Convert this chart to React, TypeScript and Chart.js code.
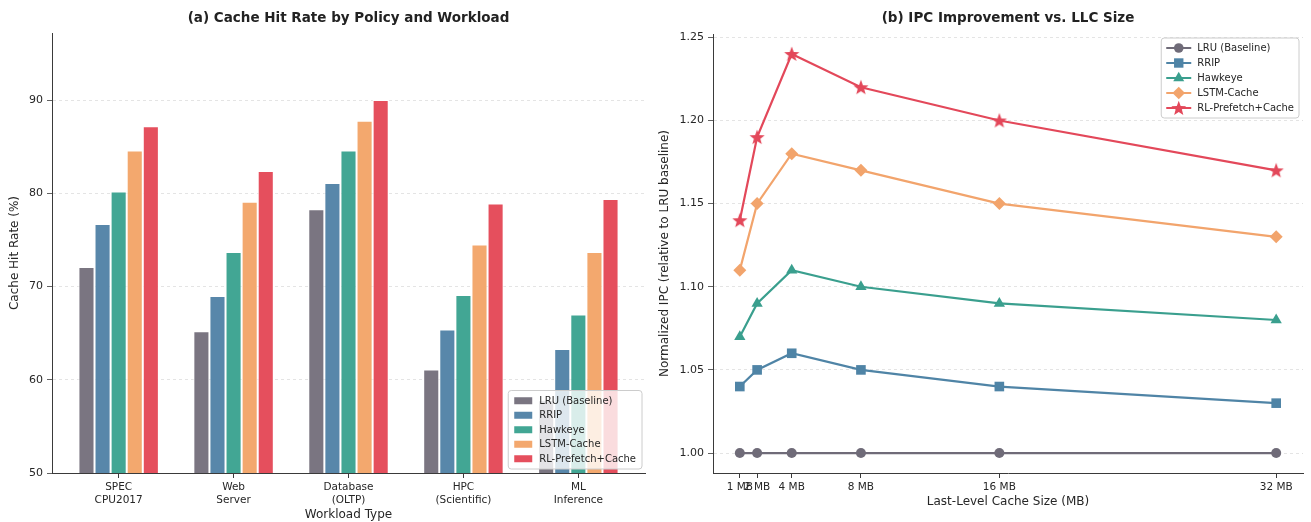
import React, { useEffect, useRef } from "react";
import { Chart, registerables } from "chart.js";

Chart.register(...registerables);

// ---------- Data ----------
const workloadLabels: string[][] = [
  ["SPEC", "CPU2017"],
  ["Web", "Server"],
  ["Database", "(OLTP)"],
  ["HPC", "(Scientific)"],
  ["ML", "Inference"],
];
const policyNames = ["LRU (Baseline)", "RRIP", "Hawkeye", "LSTM-Cache", "RL-Prefetch+Cache"];

const hitLRU = [72.1, 65.2, 78.3, 61.1, 57.8];
const hitRRIP = [76.7, 69.0, 81.1, 65.4, 63.3];
const hitHawkeye = [80.2, 73.7, 84.6, 69.1, 67.0];
const hitLSTM = [84.6, 79.1, 87.8, 74.5, 73.7];
const hitRL = [87.2, 82.4, 90.0, 78.9, 79.4];

const llcSizes = [1, 2, 4, 8, 16, 32];
const ipcLRU = [1.0, 1.0, 1.0, 1.0, 1.0, 1.0];
const ipcRRIP = [1.04, 1.05, 1.06, 1.05, 1.04, 1.03];
const ipcHawkeye = [1.07, 1.09, 1.11, 1.1, 1.09, 1.08];
const ipcLSTM = [1.11, 1.15, 1.18, 1.17, 1.15, 1.13];
const ipcRL = [1.14, 1.19, 1.24, 1.22, 1.2, 1.17];

const hitTicksStep = 10;
const hitMin = 50;
const hitMax = 97.2;
const ipcMin = 0.988;
const ipcMax = 1.252;
const ipcStep = 0.05;
const llcMin = -0.55;
const llcMax = 33.55;

// ---------- Style ----------
const FONT = "'DejaVu Sans', 'Liberation Sans', sans-serif";
const TEXT = "#262626";
const AXIS = "#3a3a3a";
const GRID = "#dedede";
const barColors = ["#7a7581", "#5887aa", "#42a694", "#f3a86e", "#e54f5d"];
const lineColors = ["#6f6b78", "#4f84a6", "#3a9f8e", "#f2a46c", "#e3485a"];
const markerKinds = ["circle", "rect", "triangle", "rectRot", "star"];
const markerRadii = [5, 6.8, 6.5, 6.5, 8];

function starPath(ctx: CanvasRenderingContext2D, cx: number, cy: number, r: number) {
  for (let i = 0; i < 10; i++) {
    const rad = i % 2 === 0 ? r : r * 0.42;
    const a = -Math.PI / 2 + (i * Math.PI) / 5;
    ctx.lineTo(cx + rad * Math.cos(a), cy + rad * Math.sin(a) + 0.6);
  }
}

function starCanvas(color: string, r: number) {
  const size = Math.ceil(r * 2 + 2);
  const c = document.createElement("canvas");
  c.width = size;
  c.height = size;
  const ctx = c.getContext("2d")!;
  ctx.beginPath();
  starPath(ctx, size / 2, size / 2, r);
  ctx.closePath();
  ctx.fillStyle = color;
  ctx.fill();
  return c;
}

function drawMarker(ctx: CanvasRenderingContext2D, kind: string, x: number, y: number, color: string) {
  ctx.save();
  ctx.fillStyle = color;
  ctx.beginPath();
  if (kind === "circle") {
    ctx.arc(x, y, 4.8, 0, Math.PI * 2);
  } else if (kind === "rect") {
    ctx.rect(x - 4.7, y - 4.7, 9.4, 9.4);
  } else if (kind === "triangle") {
    ctx.moveTo(x, y - 6.3);
    ctx.lineTo(x + 5.5, y + 3.2);
    ctx.lineTo(x - 5.5, y + 3.2);
  } else if (kind === "rectRot") {
    ctx.moveTo(x, y - 6.3);
    ctx.lineTo(x + 6.3, y);
    ctx.lineTo(x, y + 6.3);
    ctx.lineTo(x - 6.3, y);
  } else {
    starPath(ctx, x, y, 7.8);
  }
  ctx.closePath();
  ctx.fill();
  ctx.restore();
}

function titlePlugin(text: string) {
  return {
    id: "customTitle",
    afterDraw(chart: any) {
      const { ctx, chartArea } = chart;
      ctx.save();
      ctx.font = `bold 13.5px ${FONT}`;
      ctx.fillStyle = "#222";
      ctx.textAlign = "center";
      ctx.textBaseline = "middle";
      ctx.fillText(text, (chartArea.left + chartArea.right) / 2, 18);
      ctx.restore();
    },
  };
}

function roundRect(ctx: CanvasRenderingContext2D, x: number, y: number, w: number, h: number, r: number) {
  ctx.beginPath();
  ctx.moveTo(x + r, y);
  ctx.lineTo(x + w - r, y);
  ctx.arcTo(x + w, y, x + w, y + r, r);
  ctx.lineTo(x + w, y + h - r);
  ctx.arcTo(x + w, y + h, x + w - r, y + h, r);
  ctx.lineTo(x + r, y + h);
  ctx.arcTo(x, y + h, x, y + h - r, r);
  ctx.lineTo(x, y + r);
  ctx.arcTo(x, y, x + r, y, r);
  ctx.closePath();
}

const barLegendPlugin = {
  id: "barLegend",
  afterDraw(chart: any) {
    const { ctx, chartArea } = chart;
    ctx.save();
    ctx.font = `10px ${FONT}`;
    const textW = Math.max(...policyNames.map((n) => ctx.measureText(n).width));
    const rowH = 14.5;
    const w = 31 + textW + 6;
    const h = rowH * policyNames.length + 6;
    const x = chartArea.right - 3 - w;
    const y = chartArea.bottom - 4 - h;
    roundRect(ctx, x, y, w, h, 3);
    ctx.fillStyle = "rgba(255,255,255,0.8)";
    ctx.fill();
    ctx.strokeStyle = "#cccccc";
    ctx.lineWidth = 1;
    ctx.stroke();
    policyNames.forEach((name, i) => {
      const cy = y + 3 + rowH * (i + 0.5);
      ctx.fillStyle = barColors[i];
      ctx.fillRect(x + 6, cy - 3.5, 18, 7);
      ctx.fillStyle = TEXT;
      ctx.textAlign = "left";
      ctx.textBaseline = "middle";
      ctx.fillText(name, x + 31, cy + 0.5);
    });
    ctx.restore();
  },
};

const lineLegendPlugin = {
  id: "lineLegend",
  afterDraw(chart: any) {
    const { ctx, chartArea } = chart;
    ctx.save();
    ctx.font = `10px ${FONT}`;
    const textW = Math.max(...policyNames.map((n) => ctx.measureText(n).width));
    const rowH = 15;
    const w = 36 + textW + 5;
    const h = rowH * policyNames.length + 5;
    const x = chartArea.right - 4 - w;
    const y = chartArea.top + 4;
    roundRect(ctx, x, y, w, h, 3);
    ctx.fillStyle = "rgba(255,255,255,0.8)";
    ctx.fill();
    ctx.strokeStyle = "#cccccc";
    ctx.lineWidth = 1;
    ctx.stroke();
    policyNames.forEach((name, i) => {
      const cy = y + 2.5 + rowH * (i + 0.5);
      ctx.strokeStyle = lineColors[i];
      ctx.lineWidth = 2;
      ctx.beginPath();
      ctx.moveTo(x + 5, cy);
      ctx.lineTo(x + 30, cy);
      ctx.stroke();
      drawMarker(ctx, markerKinds[i], x + 17.5, cy, lineColors[i]);
      ctx.fillStyle = TEXT;
      ctx.textAlign = "left";
      ctx.textBaseline = "middle";
      ctx.fillText(name, x + 36, cy + 0.5);
    });
    ctx.restore();
  },
};

const CAT_PAD = 0.58;

export default function App() {
  const leftRef = useRef<HTMLCanvasElement>(null);
  const rightRef = useRef<HTMLCanvasElement>(null);

  useEffect(() => {
    const hitSeries = [hitLRU, hitRRIP, hitHawkeye, hitLSTM, hitRL];
    const left = new Chart(leftRef.current!, {
      type: "bar",
      data: {
        labels: workloadLabels,
        datasets: hitSeries.map((vals, i) => ({
          label: policyNames[i],
          data: vals,
          backgroundColor: barColors[i],
          borderColor: "#ffffff",
          borderWidth: 1,
          borderSkipped: "bottom",
          categoryPercentage: 0.7,
          barPercentage: 1.0,
        })),
      },
      options: {
        responsive: false,
        animation: false,
        events: [],
        layout: { padding: { top: 33, right: 10, left: 0, bottom: 0 } },
        plugins: { legend: { display: false }, title: { display: false }, tooltip: { enabled: false } },
        scales: {
          x: {
            type: "category",
            offset: true,
            afterBuildTicks: (scale: any) => {
              const n = workloadLabels.length;
              scale._startValue = -CAT_PAD;
              scale._valueRange = n - 1 + 2 * CAT_PAD;
            },
            afterFit: (scale: any) => {
              scale.height = 49;
            },
            grid: {
              offset: false,
              drawOnChartArea: false,
              drawTicks: true,
              tickLength: 5,
              tickColor: AXIS,
              color: AXIS,
            },
            border: { display: true, color: AXIS, width: 1 },
            ticks: {
              color: TEXT,
              font: { family: FONT, size: 10.5, lineHeight: 1.24 },
              padding: 3,
              maxRotation: 0,
              autoSkip: false,
            },
            title: {
              display: true,
              text: "Workload Type",
              color: TEXT,
              font: { family: FONT, size: 12 },
              padding: { top: 0, bottom: 0 },
            },
          },
          y: {
            type: "linear",
            min: hitMin,
            max: hitMax,
            afterFit: (scale: any) => {
              scale.width = 52;
            },
            grid: {
              color: GRID,
              lineWidth: 0.8,
              drawTicks: true,
              tickLength: 5,
              tickColor: AXIS,
            },
            border: { display: true, color: AXIS, width: 1, dash: [3, 3] },
            ticks: {
              stepSize: hitTicksStep,
              includeBounds: false,
              color: TEXT,
              font: { family: FONT, size: 11 },
              padding: 4,
            },
            title: {
              display: true,
              text: "Cache Hit Rate (%)",
              color: TEXT,
              font: { family: FONT, size: 12 },
              padding: { top: 8, bottom: 0 },
            },
          },
        },
      } as any,
      plugins: [titlePlugin("(a) Cache Hit Rate by Policy and Workload"), barLegendPlugin],
    });

    const ipcSeries = [ipcLRU, ipcRRIP, ipcHawkeye, ipcLSTM, ipcRL];
    const right = new Chart(rightRef.current!, {
      type: "line",
      data: {
        datasets: ipcSeries.map((vals, i) => ({
          label: policyNames[i],
          data: llcSizes.map((s, j) => ({ x: s, y: vals[j] })),
          borderColor: lineColors[i],
          backgroundColor: lineColors[i],
          borderWidth: 2.2,
          pointStyle: markerKinds[i] === "star" ? starCanvas(lineColors[i], markerRadii[i]) : markerKinds[i],
          pointRadius: markerRadii[i],
          pointBorderWidth: 0,
          pointBackgroundColor: lineColors[i],
          pointBorderColor: lineColors[i],
          fill: false,
          tension: 0,
        })),
      },
      options: {
        responsive: false,
        animation: false,
        events: [],
        layout: { padding: { top: 34, right: 6, left: 0, bottom: 0 } },
        plugins: { legend: { display: false }, title: { display: false }, tooltip: { enabled: false } },
        scales: {
          x: {
            type: "linear",
            min: llcMin,
            max: llcMax,
            afterBuildTicks: (scale: any) => {
              scale.ticks = llcSizes.map((v) => ({ value: v }));
            },
            afterFit: (scale: any) => {
              scale.height = 49;
            },
            grid: {
              drawOnChartArea: false,
              drawTicks: true,
              tickLength: 5,
              tickColor: AXIS,
              color: AXIS,
            },
            border: { display: true, color: AXIS, width: 1 },
            ticks: {
              color: TEXT,
              font: { family: FONT, size: 10.5 },
              padding: 3,
              maxRotation: 0,
              autoSkip: false,
              callback: (v: any) => `${v} MB`,
            },
            title: {
              display: true,
              text: "Last-Level Cache Size (MB)",
              color: TEXT,
              font: { family: FONT, size: 12 },
              padding: { top: 0, bottom: 13 },
            },
          },
          y: {
            type: "linear",
            min: ipcMin,
            max: ipcMax,
            afterFit: (scale: any) => {
              scale.width = 58;
            },
            grid: {
              color: GRID,
              lineWidth: 0.8,
              drawTicks: true,
              tickLength: 5,
              tickColor: AXIS,
            },
            border: { display: true, color: AXIS, width: 1, dash: [3, 3] },
            ticks: {
              stepSize: ipcStep,
              includeBounds: false,
              color: TEXT,
              font: { family: FONT, size: 11 },
              padding: 4,
              callback: (v: any) => Number(v).toFixed(2),
            },
            title: {
              display: true,
              text: "Normalized IPC (relative to LRU baseline)",
              color: TEXT,
              font: { family: FONT, size: 12 },
              padding: { top: 3, bottom: 0 },
            },
          },
        },
      } as any,
      plugins: [titlePlugin("(b) IPC Improvement vs. LLC Size"), lineLegendPlugin],
    });

    return () => {
      left.destroy();
      right.destroy();
    };
  }, []);

  return (
    <div style={{ position: "absolute", left: 0, top: 0, width: 1311, height: 522, background: "#ffffff" }}>
      <div style={{ position: "absolute", left: 0, top: 0, width: 655, height: 522 }}>
        <canvas ref={leftRef} width={655} height={522} style={{ width: 655, height: 522, display: "block" }} />
      </div>
      <div style={{ position: "absolute", left: 655, top: 0, width: 656, height: 522 }}>
        <canvas ref={rightRef} width={656} height={522} style={{ width: 656, height: 522, display: "block" }} />
      </div>
    </div>
  );
}
